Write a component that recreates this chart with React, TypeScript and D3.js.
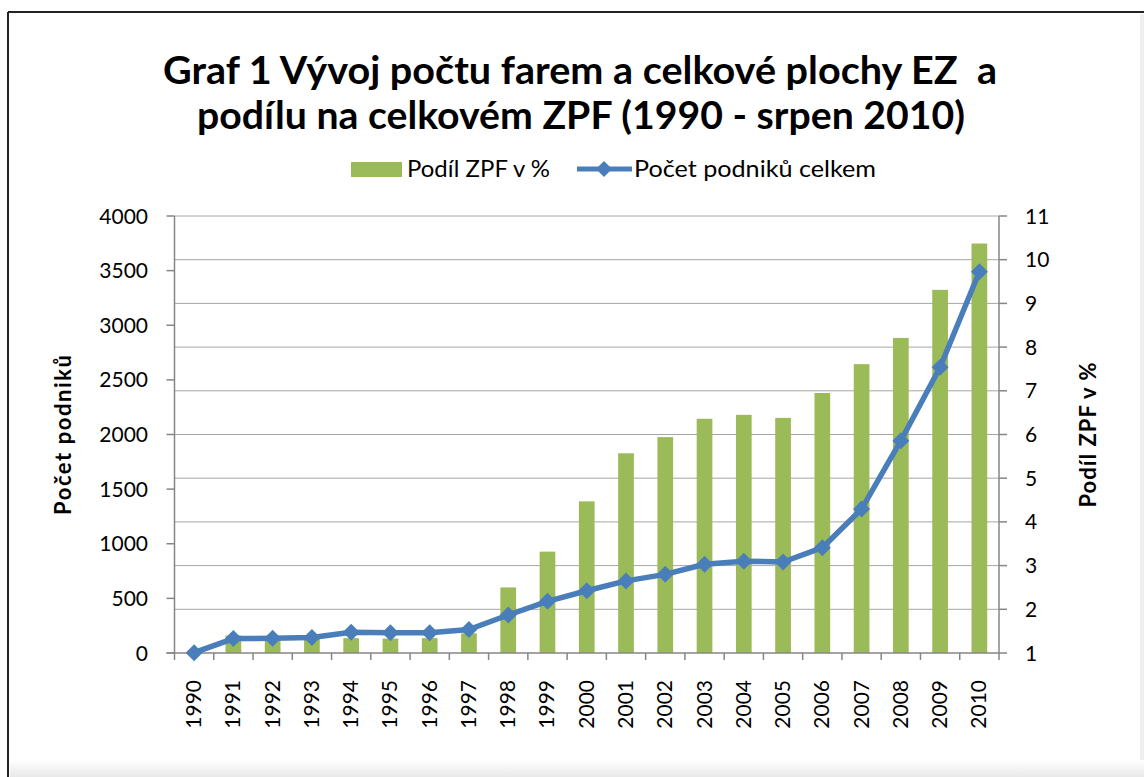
import { useEffect } from 'react';
import * as d3 from 'd3';

const years = ['1990', '1991', '1992', '1993', '1994', '1995', '1996', '1997', '1998', '1999', '2000',
  '2001', '2002', '2003', '2004', '2005', '2006', '2007', '2008', '2009', '2010'];

// Podíl ZPF v % (right axis, bars drawn up from the axis minimum 1)
const shareZpf = [1.0, 1.4, 1.36, 1.35, 1.34, 1.33, 1.34, 1.45, 2.5, 3.32, 4.47,
  5.57, 5.94, 6.36, 6.45, 6.38, 6.95, 7.61, 8.21, 9.31, 10.37];

// Počet podniků celkem (left axis)
const farms = [3, 132, 135, 141, 190, 185, 185, 215, 348, 473, 570,
  660, 720, 812, 840, 833, 964, 1318, 1943, 2615, 3490];

const leftTicks = [0, 500, 1000, 1500, 2000, 2500, 3000, 3500, 4000];
const rightTicks = [1, 2, 3, 4, 5, 6, 7, 8, 9, 10, 11];

const FONT = 'Lato, "Open Sans", sans-serif';
const BAR = '#9BBB59';
const LINE = '#4A7EBB';
const AXIS = '#868686';
const GRID = '#A6A6A6';

const diamond = (cx: number, cy: number, r: number) =>
  `M${cx},${cy - r}L${cx + r},${cy}L${cx},${cy + r}L${cx - r},${cy}Z`;

export default function App() {
  useEffect(() => {
    document.body.style.margin = '0';
  }, []);

  const width = 1144;
  const height = 777;
  const left = 174.5, right = 999, top = 216, bottom = 653;

  const x = d3.scaleBand<string>().domain(years).range([left, right]).padding(0);
  const bw = x.bandwidth();
  const yL = d3.scaleLinear().domain([0, 4000]).range([bottom, top]);
  const yR = d3.scaleLinear().domain([1, 11]).range([bottom, top]);

  const cx = (y: string) => (x(y) ?? 0) + bw / 2;

  const line = d3.line<number>()
    .x((_, i) => cx(years[i]))
    .y(d => yL(d));

  return (
    <svg width={width} height={height} style={{ display: 'block', background: '#fff' }}>
      <defs>
        <linearGradient id="bottomFade" x1="0" y1="0" x2="0" y2="1">
          <stop offset="0" stopColor="#ffffff" />
          <stop offset="1" stopColor="#e8e8e8" />
        </linearGradient>
      </defs>

      {/* page edges */}
      <rect x={1140} y={14} width={4} height={height} fill="#efefef" />
      <rect x={10} y={760} width={1134} height={17} fill="url(#bottomFade)" />
      <line x1={8} y1={12} x2={width} y2={12} stroke="#222" strokeWidth={2} />
      <line x1={8} y1={12} x2={8} y2={height} stroke="#222" strokeWidth={2} />

      {/* title */}
      <g fontFamily={FONT} fontWeight="bold" fontSize={39} textAnchor="middle" fill="#000">
        <text x={580} y={84} style={{ whiteSpace: 'pre' }} textLength={834} lengthAdjust="spacingAndGlyphs">
          Graf 1 Vývoj počtu farem a celkové plochy EZ  a
        </text>
        <text x={581} y={129} textLength={768} lengthAdjust="spacingAndGlyphs">
          podílu na celkovém ZPF (1990 - srpen 2010)
        </text>
      </g>

      {/* legend */}
      <g fontFamily={FONT} fontSize={23} fill="#000">
        <rect x={351} y={162} width={51} height={15} fill={BAR} />
        <text x={407} y={177} textLength={143} lengthAdjust="spacingAndGlyphs">Podíl ZPF v %</text>
        <line x1={577} y1={169} x2={632} y2={169} stroke={LINE} strokeWidth={5} />
        <path d={diamond(604, 169, 8)} fill={LINE} />
        <text x={634} y={177} textLength={242} lengthAdjust="spacingAndGlyphs">Počet podniků celkem</text>
      </g>

      {/* gridlines (secondary axis) */}
      {rightTicks.filter(t => t > 1).map(t => (
        <line key={t} x1={left} x2={right} y1={yR(t)} y2={yR(t)} stroke={GRID} strokeWidth={1} />
      ))}

      {/* bars */}
      {years.map((yr, i) => (
        <rect key={yr}
          x={(x(yr) ?? 0) + bw * 0.3}
          width={bw * 0.4}
          y={yR(shareZpf[i])}
          height={yR(1) - yR(shareZpf[i])}
          fill={BAR} />
      ))}

      {/* axes */}
      <g stroke={AXIS} strokeWidth={1.5}>
        <line x1={left} x2={left} y1={top} y2={bottom} />
        <line x1={right} x2={right} y1={top} y2={bottom} />
        <line x1={left - 8} x2={right} y1={bottom} y2={bottom} />
        {leftTicks.map(t => (
          <line key={'l' + t} x1={left - 8} x2={left} y1={yL(t)} y2={yL(t)} />
        ))}
        {rightTicks.map(t => (
          <line key={'r' + t} x1={right} x2={right + 8} y1={yR(t)} y2={yR(t)} />
        ))}
        {years.map(yr => (
          <line key={'x' + yr} x1={x(yr)} x2={x(yr)} y1={bottom} y2={bottom + 7} />
        ))}
        <line x1={right} x2={right} y1={bottom} y2={bottom + 7} />
      </g>

      {/* line series */}
      <path d={line(farms) ?? ''} fill="none" stroke={LINE} strokeWidth={5.5} strokeLinejoin="round" />
      {farms.map((v, i) => (
        <path key={years[i]} d={diamond(cx(years[i]), yL(v), 8.5)} fill={LINE} />
      ))}

      {/* tick labels */}
      <g fontFamily={FONT} fontSize={21} fill="#000">
        {leftTicks.map(t => (
          <text key={'lt' + t} x={148} y={yL(t)} dy="0.36em" textAnchor="end">{t}</text>
        ))}
        {rightTicks.map(t => (
          <text key={'rt' + t} x={1025} y={yR(t)} dy="0.36em" textAnchor="start">{t}</text>
        ))}
        {years.map(yr => (
          <text key={'xt' + yr} transform={`translate(${cx(yr) + 7},680) rotate(-90)`} textAnchor="end">{yr}</text>
        ))}
      </g>

      {/* axis titles */}
      <g fontFamily={FONT} fontWeight="bold" fontSize={22} fill="#000" textAnchor="middle">
        <text transform="translate(71,435) rotate(-90)" textLength={160}>Počet podniků</text>
        <text transform="translate(1096,435) rotate(-90)" textLength={145}>Podíl ZPF v %</text>
      </g>
    </svg>
  );
}
